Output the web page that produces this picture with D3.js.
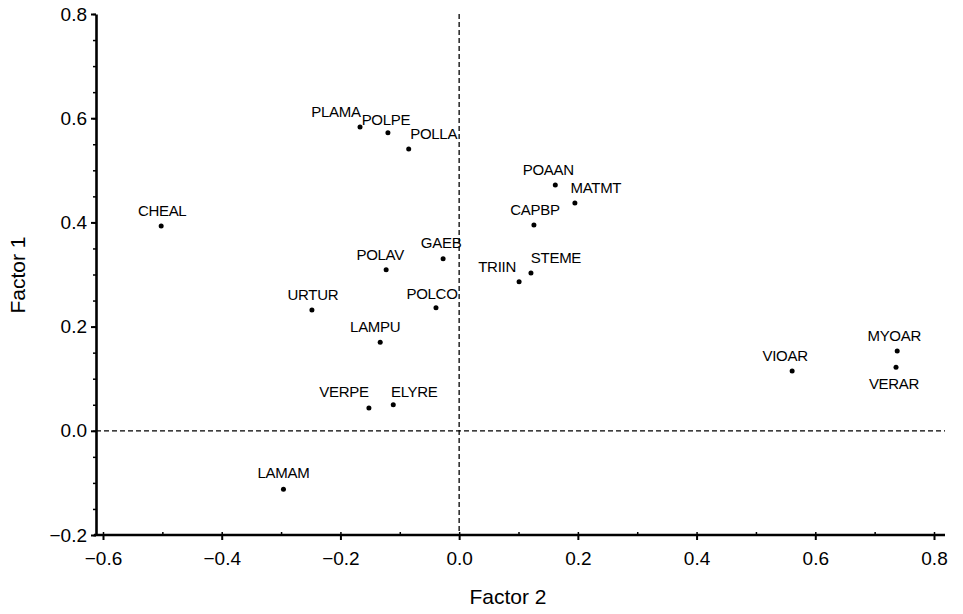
<!DOCTYPE html>
<html>
<head>
<meta charset="utf-8">
<script src="https://cdn.jsdelivr.net/npm/d3@7"></script>
<style>
  body { margin: 0; background: #fff; }
  svg { font-family: "Liberation Sans", Arial, sans-serif; }
</style>
</head>
<body>
<div id="chart"></div>
<script>
// Set up SVG dimensions
const w = 963;
const h = 614;

// Data: species codes and their factor scores
const species = ["CHEAL", "PLAMA", "POLPE", "POLLA", "POAAN", "MATMT", "CAPBP", "GAEB", "POLAV",
  "STEME", "TRIIN", "URTUR", "POLCO", "LAMPU", "VERPE", "ELYRE", "LAMAM", "VIOAR", "MYOAR", "VERAR"];
const factor2 = [-0.502, -0.167, -0.120, -0.085, 0.162, 0.195, 0.126, -0.027, -0.123,
  0.121, 0.101, -0.248, -0.039, -0.133, -0.152, -0.111, -0.296, 0.561, 0.738, 0.736];
const factor1 = [0.393, 0.583, 0.572, 0.541, 0.472, 0.437, 0.395, 0.330, 0.309,
  0.303, 0.286, 0.232, 0.236, 0.170, 0.044, 0.050, -0.112, 0.115, 0.153, 0.122];

const xTicks = [-0.6, -0.4, -0.2, 0.0, 0.2, 0.4, 0.6, 0.8];
const yTicks = [-0.2, 0.0, 0.2, 0.4, 0.6, 0.8];

// label placement relative to the dot (px)
const labelOffset = {
  CHEAL: [1, -10], PLAMA: [-24, -10], POLPE: [-2, -8], POLLA: [25, -10], POAAN: [-7, -10],
  MATMT: [21, -10], CAPBP: [1, -10], GAEB: [-2, -11], POLAV: [-6, -10], STEME: [25, -10],
  TRIIN: [-22, -10], URTUR: [1, -10], POLCO: [-4, -9], LAMPU: [-5, -10], VERPE: [-25, -11],
  ELYRE: [21, -8], LAMAM: [0, -11], VIOAR: [-7, -10], MYOAR: [-3, -10], VERAR: [-2, 22]
};

const dataset = species.map((s, i) => ({name: s, x: factor2[i], y: factor1[i]}));

const svg = d3.select("#chart")
  .append("svg")
  .attr("width", w)
  .attr("height", h)
  .style("background-color", "white");

// Scales
const xScale = d3.scaleLinear().domain([-0.6, 0.8]).range([103, 934]);
const yScale = d3.scaleLinear().domain([-0.2, 0.8]).range([535, 14]);
const frameLeft = 96;
const frameRight = 945;

// Reference dashed lines through the origin
svg.append("line")
  .attr("x1", frameLeft).attr("x2", frameRight)
  .attr("y1", yScale(0)).attr("y2", yScale(0))
  .attr("stroke", "#000").attr("stroke-width", 1.3)
  .attr("stroke-dasharray", "5,3");
svg.append("line")
  .attr("x1", xScale(0)).attr("x2", xScale(0))
  .attr("y1", yScale(0.8)).attr("y2", yScale(-0.2))
  .attr("stroke", "#000").attr("stroke-width", 1.3)
  .attr("stroke-dasharray", "5,3");

// Minor ticks
const xAxisMinor = d3.axisBottom(xScale).tickValues(d3.range(-0.6, 0.81, 0.1)).tickSize(-3).tickFormat("");
const yAxisMinor = d3.axisLeft(yScale).tickValues(d3.range(-0.2, 0.81, 0.05)).tickSize(3).tickFormat("");

svg.append("g")
  .attr("transform", "translate(0," + yScale(-0.2) + ")")
  .call(xAxisMinor)
  .call(g => g.select(".domain").remove())
  .selectAll("line").attr("stroke-width", 1.5);
svg.append("g")
  .attr("transform", "translate(" + frameLeft + ",0)")
  .call(yAxisMinor)
  .call(g => g.select(".domain").remove())
  .selectAll("line").attr("stroke-width", 1.5);

// Major axes
const fmt = d => d3.format(".1f")(d).replace("-", "\u2212");
const xAxis = d3.axisBottom(xScale).tickValues(xTicks).tickSize(5).tickSizeOuter(0).tickFormat(fmt);
const yAxis = d3.axisLeft(yScale).tickValues(yTicks).tickSize(5).tickSizeOuter(0).tickFormat(fmt);

const gx = svg.append("g")
  .attr("transform", "translate(0," + yScale(-0.2) + ")")
  .call(xAxis);
gx.select(".domain").remove();
gx.selectAll("line").attr("stroke-width", 2);
gx.selectAll("text")
  .attr("dy", "1.15em")
  .style("font-size", "19px")
  .attr("fill", "#000");
gx.append("line")
  .attr("x1", frameLeft - 2).attr("x2", frameRight)
  .attr("stroke", "#000").attr("stroke-width", 2.6);

const gy = svg.append("g")
  .attr("transform", "translate(" + frameLeft + ",0)")
  .call(yAxis);
gy.select(".domain").attr("stroke-width", 2.6);
gy.selectAll("line").attr("stroke-width", 2);
gy.selectAll("text")
  .attr("x", -9)
  .style("font-size", "19px")
  .attr("fill", "#000");

// Points
svg.selectAll(".dot")
  .data(dataset)
  .enter()
  .append("circle")
  .attr("class", "dot")
  .attr("cx", d => xScale(d.x))
  .attr("cy", d => yScale(d.y))
  .attr("r", 2.5)
  .attr("fill", "#000");

// Point labels
svg.selectAll(".lbl")
  .data(dataset)
  .enter()
  .append("text")
  .attr("class", "lbl")
  .attr("x", d => xScale(d.x) + labelOffset[d.name][0])
  .attr("y", d => yScale(d.y) + labelOffset[d.name][1])
  .attr("text-anchor", "middle")
  .style("font-size", "15px")
  .style("letter-spacing", "-0.3px")
  .attr("fill", "#000")
  .text(d => d.name);

// Axis titles
svg.append("text")
  .attr("x", 508)
  .attr("y", 604)
  .attr("text-anchor", "middle")
  .style("font-size", "21px")
  .text("Factor 2");

svg.append("text")
  .attr("transform", "translate(25,275) rotate(-90)")
  .attr("text-anchor", "middle")
  .style("font-size", "21px")
  .text("Factor 1");
</script>
</body>
</html>
